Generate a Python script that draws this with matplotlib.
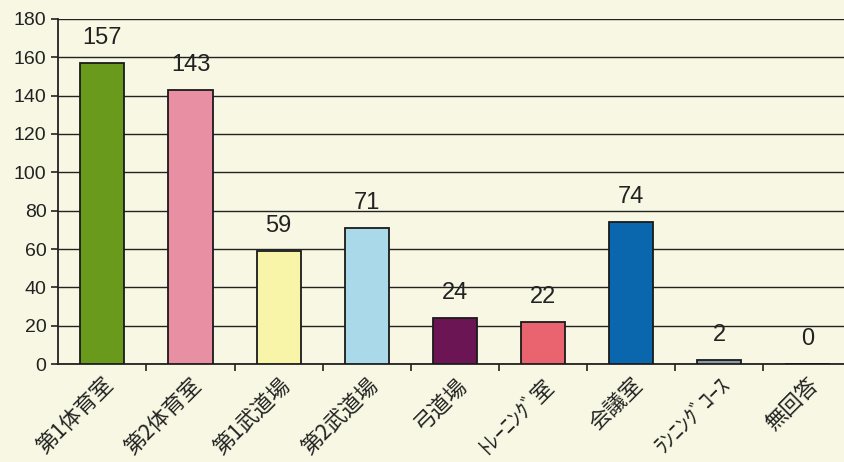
import numpy as np
import matplotlib.pyplot as plt

plt.rcParams['font.family'] = ['Noto Sans CJK JP', 'DejaVu Sans']

categories = ["第1体育室", "第2体育室", "第1武道場", "第2武道場", "弓道場",
              "ﾄﾚｰﾆﾝｸﾞ室", "会議室", "ﾗﾝﾆﾝｸﾞｺｰｽ", "無回答"]
values = [157, 143, 59, 71, 24, 22, 74, 2, 0]
colors = ["#6a9a1c", "#e98fa3", "#f9f5a8", "#aad9ea", "#6c1554",
          "#ea6470", "#0b67ad", "#8b9aa6", "#8b9aa6"]

bg = "#f7f7e3"
fig = plt.figure(figsize=(8.44, 4.62), dpi=100, facecolor=bg)
ax = fig.add_axes([0.069, 0.212, 0.94, 0.747], facecolor=bg)

x = np.arange(len(categories))
bars = ax.bar(x, values, width=0.5, color=colors, edgecolor="#1a1a1a",
              linewidth=1.3, zorder=3)
for xi, v in zip(x, values):
    ax.annotate(str(v), (xi, v), xytext=(0, 10), textcoords="offset points",
                ha="center", va="bottom", fontsize=17, color="#222222",
                family=["Liberation Sans Narrow", "Liberation Sans"])

ax.set_ylim(0, 180)
ax.set_yticks(range(0, 181, 20))
ax.set_xlim(-0.5, len(categories) - 0.5)
ax.yaxis.grid(True, color="#222222", linewidth=1.0, zorder=0)
ax.set_axisbelow(True)

ax.set_xticks(x)
ax.set_xticklabels(categories, rotation=45, ha="right", rotation_mode="anchor",
                   fontsize=15.5, color="#222222")
ax.tick_params(axis="x", length=0, pad=7)
ax.set_xticks(np.arange(0.5, len(categories) - 0.5, 1), minor=True)
ax.tick_params(axis="x", which="minor", length=5, width=1.2, color="#222222")
ax.tick_params(axis="y", length=5, width=1.2, color="#222222", labelsize=14,
               labelcolor="#222222")
for lbl in ax.get_yticklabels():
    lbl.set_family("Liberation Sans")

for s in ["top", "right"]:
    ax.spines[s].set_visible(False)
for s in ["left", "bottom"]:
    ax.spines[s].set_color("#222222")
    ax.spines[s].set_linewidth(1.3)

fig.savefig("out.png", dpi=100, facecolor=bg)
